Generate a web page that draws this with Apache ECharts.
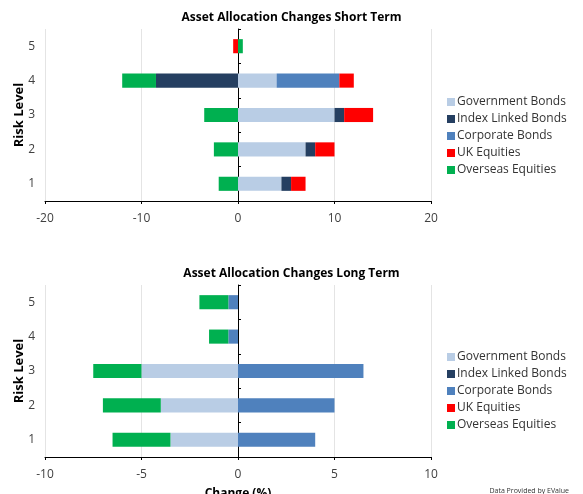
<!DOCTYPE html>
<html>
<head>
<meta charset="utf-8">
<script src="https://cdn.jsdelivr.net/npm/echarts@6/dist/echarts.min.js"></script>
<style>
  html, body { margin: 0; padding: 0; background: #fff; }
  #chart { width: 583px; height: 494px; }
</style>
</head>
<body>
<div id="chart"></div>
<script>
// risk levels, bottom to top
var riskLevels = ['1', '2', '3', '4', '5'];
var assetNames = ['Government Bonds', 'Index Linked Bonds', 'Corporate Bonds', 'UK Equities', 'Overseas Equities'];
var assetColors = ['#b9cde5', '#253f61', '#4f81bd', '#ff0000', '#00b050'];

// short term changes (%)
var shortGov      = [4.5, 7, 10, 4, 0];
var shortIndex    = [1, 1, 1, -8.5, 0];
var shortCorp     = [0, 0, 0, 6.5, 0];
var shortUK       = [1.5, 2, 3, 1.5, -0.5];
var shortOverseas = [-2, -2.5, -3.5, -3.5, 0.5];

// long term changes (%)
var longGov      = [-3.5, -4, -5, 0, 0];
var longIndex    = [0, 0, 0, 0, 0];
var longCorp     = [4, 5, 6.5, -0.5, -0.5];
var longUK       = [0, 0, 0, 0, 0];
var longOverseas = [-3, -3, -2.5, -1, -1.5];

var font = 'Open Sans';
var chart = echarts.init(document.getElementById('chart'));

function valueAxis(idx, max, interval, name) {
    return {
        type: 'value', gridIndex: idx, min: -max, max: max, interval: interval,
        name: name || '', nameLocation: 'middle', nameGap: 31, nameMoveOverlap: false,
        nameTextStyle: { fontFamily: font, fontWeight: 'bold', fontSize: 12, color: '#000' },
        axisLine: { show: true, onZero: false, lineStyle: { color: '#000', width: 1 } },
        axisTick: { show: true, length: 3, lineStyle: { color: '#000' } },
        axisLabel: { fontFamily: font, fontSize: 12, color: '#404040', margin: 12 },
        splitLine: { show: true, lineStyle: { color: '#e4e4e4' } }
    };
}

function labelAxis(idx) {
    return {
        type: 'category', gridIndex: idx, data: riskLevels,
        name: 'Risk Level', nameLocation: 'middle', nameGap: 19, nameMoveOverlap: false,
        nameTextStyle: { fontFamily: font, fontWeight: 'bold', fontSize: 13, color: '#000' },
        axisLine: { show: false, onZero: false },
        axisTick: { show: false },
        axisLabel: { fontFamily: font, fontSize: 12, color: '#404040', margin: 10 }
    };
}

function zeroAxis(idx, xIdx) {
    return {
        type: 'category', gridIndex: idx, data: riskLevels,
        axisLine: { show: true, onZero: true, onZeroAxisIndex: xIdx, lineStyle: { color: '#000', width: 1 } },
        axisTick: { show: true, length: 3, lineStyle: { color: '#000' } },
        axisLabel: { show: false },
        splitLine: { show: false }
    };
}

function makeSeries(idx, arrays) {
    return arrays.map(function (d, i) {
        return {
            name: assetNames[i], type: 'bar', stack: 'g' + idx,
            xAxisIndex: idx, yAxisIndex: idx * 2,
            barWidth: '41%', data: d,
            itemStyle: { color: assetColors[i] }
        };
    });
}

function makeLegend(top) {
    return {
        orient: 'vertical', left: 442, top: top,
        data: assetNames, icon: 'rect', itemWidth: 8, itemHeight: 8, itemGap: 5,
        textStyle: { fontFamily: font, fontSize: 12, color: '#333', padding: [0, 0, 0, -3] },
        selectedMode: false
    };
}

chart.setOption({
    animation: false,
    title: [
        { text: 'Asset Allocation Changes Short Term', left: 'center', top: 7,
          textStyle: { fontFamily: font, fontSize: 12, fontWeight: 'bold', color: '#000' } },
        { text: 'Asset Allocation Changes Long Term', left: 'center', top: 263,
          textStyle: { fontFamily: font, fontSize: 12, fontWeight: 'bold', color: '#000' } }
    ],
    legend: [makeLegend(91), makeLegend(346)],
    grid: [
        { left: 45, width: 386, top: 29, height: 172, outerBoundsMode: 'none' },
        { left: 45, width: 386, top: 285, height: 172, outerBoundsMode: 'none' }
    ],
    xAxis: [valueAxis(0, 20, 10), valueAxis(1, 10, 5, 'Change (%)')],
    yAxis: [labelAxis(0), zeroAxis(0, 0), labelAxis(1), zeroAxis(1, 1)],
    series: makeSeries(0, [shortGov, shortIndex, shortCorp, shortUK, shortOverseas])
        .concat(makeSeries(1, [longGov, longIndex, longCorp, longUK, longOverseas])),
    graphic: [{
        type: 'text', right: 14, bottom: 0,
        style: { text: 'Data Provided by EValue', fontFamily: font, fontSize: 7, fill: '#333' }
    }]
});
</script>
</body>
</html>
